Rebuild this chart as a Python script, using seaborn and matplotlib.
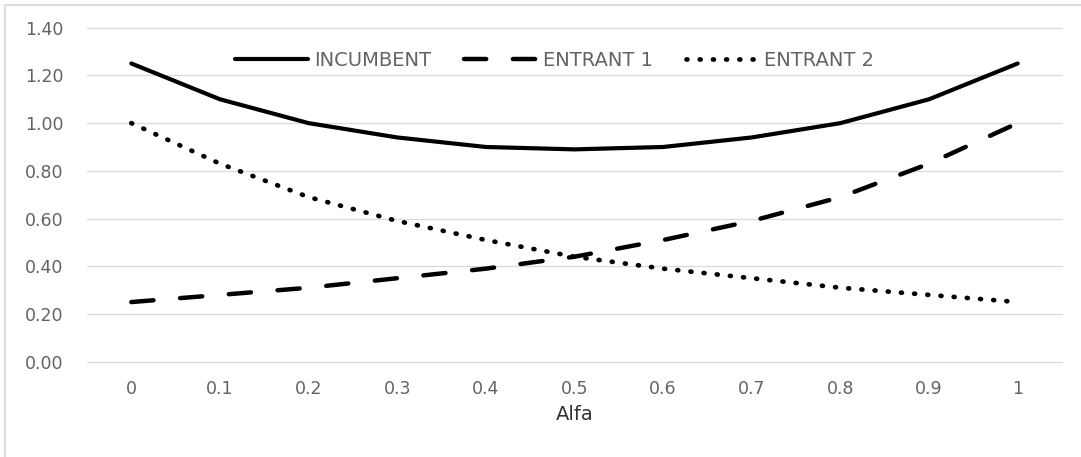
import matplotlib
matplotlib.use("Agg")
import matplotlib.pyplot as plt
from matplotlib.lines import Line2D
import seaborn as sns
import pandas as pd

# Shares as a function of alfa
alfa = ["0", "0.1", "0.2", "0.3", "0.4", "0.5", "0.6", "0.7", "0.8", "0.9", "1"]
incumbent = [1.25, 1.10, 1.00, 0.94, 0.90, 0.89, 0.90, 0.94, 1.00, 1.10, 1.25]
entrant1 = [0.25, 0.28, 0.31, 0.35, 0.39, 0.44, 0.51, 0.59, 0.69, 0.83, 1.00]
entrant2 = [1.00, 0.83, 0.69, 0.59, 0.51, 0.44, 0.39, 0.35, 0.31, 0.28, 0.25]
y_ticks = [0.0, 0.2, 0.4, 0.6, 0.8, 1.0, 1.2, 1.4]

sns.set_theme(style="white")
plt.rcParams["font.family"] = ["DejaVu Sans"]

W, H = 1081, 457
fig = plt.figure(figsize=(W / 100, H / 100), dpi=100)
ax = fig.add_axes([87 / W, 1 - 361.7 / H, (1062 - 87) / W, (361.7 - 27.7) / H])

pos = list(range(len(alfa)))
series = [
    ("INCUMBENT", incumbent, "-", 3.0),
    ("ENTRANT 1", entrant1, (0, (5.0, 6.0)), 3.2),
    ("ENTRANT 2", entrant2, (0, (0.2, 2.6)), 3.4),
]
for name, vals, ls, lw in series:
    df = pd.DataFrame({"pos": pos, "val": vals})
    sns.lineplot(data=df, x="pos", y="val", ax=ax, color="black", lw=lw,
                 linestyle=ls, label=name, sort=False,
                 dash_capstyle="round", solid_capstyle="round")

ax.set_xlim(-0.5, len(alfa) - 0.5)
ax.set_ylim(0, 1.4)
ax.set_xticks(pos)
ax.set_xticklabels(alfa)
ax.set_yticks(y_ticks)
ax.set_yticklabels([f"{v:.2f}" for v in y_ticks])

ax.grid(axis="y", color="#D9D9D9", lw=0.9)
ax.grid(axis="x", visible=False)
for g in ax.get_ygridlines():
    g.set_clip_on(False)
ax.set_axisbelow(True)
for s in ax.spines.values():
    s.set_visible(False)
ax.tick_params(axis="both", length=0, labelsize=12.5, labelcolor="#636363")
ax.tick_params(axis="y", pad=17)
ax.tick_params(axis="x", pad=13)
ax.set_ylabel("")
ax.set_xlabel("Alfa", fontsize=14, color="#333333", labelpad=5)

handles, labels = ax.get_legend_handles_labels()
ax.get_legend().remove()
fig.legend(handles, labels, ncol=3, frameon=False,
           loc="center left", bbox_to_anchor=(235 / W, 1 - 60.3 / H),
           borderpad=0, borderaxespad=0, fontsize=14,
           handlelength=3.75, handletextpad=0.3, columnspacing=1.7,
           labelcolor="#636363")

# Outer chart border (left and top edges)
fig.add_artist(Line2D([4.5 / W, 4.5 / W, 1], [0, 1 - 4.5 / H, 1 - 4.5 / H],
                      transform=fig.transFigure, color="#D9D9D9", lw=1.3))

fig.savefig("out.png", dpi=100)
